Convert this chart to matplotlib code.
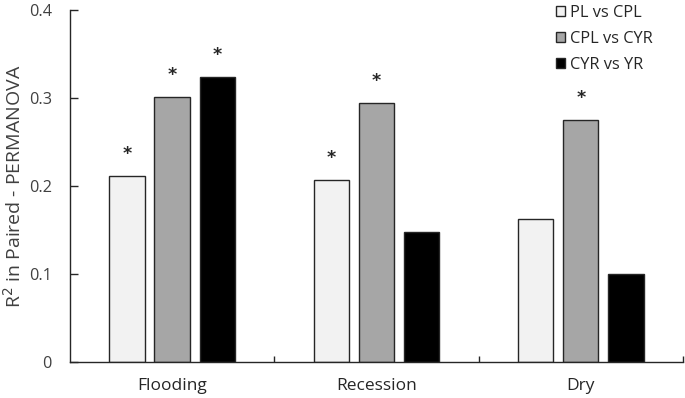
import matplotlib.pyplot as plt
import numpy as np

plt.rcParams['font.family'] = ['Open Sans', 'DejaVu Sans']

## data
groups = ['Flooding', 'Recession', 'Dry']
series = ['PL vs CPL', 'CPL vs CYR', 'CYR vs YR']
pl_cpl = [0.211, 0.207, 0.163]
cpl_cyr = [0.301, 0.294, 0.275]
cyr_yr = [0.324, 0.148, 0.100]
# significance flags (asterisk above the bar)
sig_pl_cpl = [True, True, False]
sig_cpl_cyr = [True, True, True]
sig_cyr_yr = [True, False, False]

## style
colors = ['#f2f2f2', '#a6a6a6', '#000000']
offsets = [-0.2215, 0.0, 0.2215]
width = 0.173

fig = plt.figure(figsize=(6.85, 3.98), dpi=100)
ax = fig.add_axes([0.1022, 0.0897, 0.8948, 0.8852])

X = np.arange(len(groups))
values = [pl_cpl, cpl_cyr, cyr_yr]
sigs = [sig_pl_cpl, sig_cpl_cyr, sig_cyr_yr]
for i, key in enumerate(series):
    ax.bar(X + offsets[i], values[i], width, color=colors[i], edgecolor='#262626',
           linewidth=1.0, label=key, zorder=2)
    for j, v in enumerate(values[i]):
        if sigs[i][j]:
            ax.text(X[j] + offsets[i], v + 0.025, '*', ha='center', va='center',
                    fontsize=12.5, fontweight='bold', color='#262626',
                    family='DejaVu Sans')

## axes formatting
ax.set_xlim(-0.5, 2.5)
ax.set_ylim(0, 0.4)
ax.set_yticks([0, 0.1, 0.2, 0.3, 0.4])
ax.set_yticklabels(['0', '0.1', '0.2', '0.3', '0.4'])
ax.set_xticks(X)
ax.set_xticklabels(groups)
ax.set_xticks([0.5, 1.5, 2.5], minor=True)
ax.tick_params(axis='x', which='both', direction='in', length=4, width=1,
               labelsize=12.5, pad=11, colors='#262626', labelcolor='#262626')
ax.tick_params(axis='y', direction='in', length=6, width=1, labelsize=11.7,
               pad=13, colors='#262626', labelcolor='#404040')
for s in ['top', 'right']:
    ax.spines[s].set_visible(False)
for s in ['left', 'bottom']:
    ax.spines[s].set_color('#262626')
    ax.spines[s].set_linewidth(1)
ax.set_ylabel('R$^2$ in Paired - PERMANOVA', fontsize=14, color='#404040', labelpad=3)

fig.legend(loc='upper left', bbox_to_anchor=(556 / 685, 0.988), frameon=False, fontsize=11.8,
           handlelength=0.55, handleheight=0.55, handletextpad=0.3, labelspacing=0.62,
           borderpad=0, borderaxespad=0, labelcolor='#262626')

fig.savefig('out.png', dpi=100)
